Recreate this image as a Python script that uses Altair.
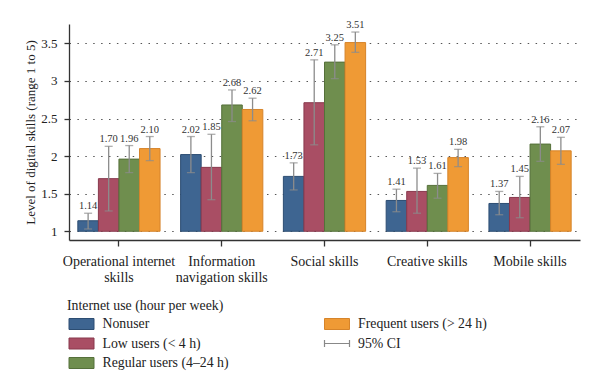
import altair as alt
import pandas as pd

categories = [
    "Operational internet skills",
    "Information navigation skills",
    "Social skills",
    "Creative skills",
    "Mobile skills",
]
series = [
    "Nonuser",
    "Low users (< 4 h)",
    "Regular users (4–24 h)",
    "Frequent users (> 24 h)",
]

nonuser = [1.14, 2.02, 1.73, 1.41, 1.37]
nonuser_lo = [1.03, 1.78, 1.55, 1.26, 1.22]
nonuser_hi = [1.24, 2.26, 1.91, 1.56, 1.53]

low = [1.70, 1.85, 2.71, 1.53, 1.45]
low_lo = [1.27, 1.42, 2.15, 1.24, 1.18]
low_hi = [2.13, 2.29, 3.28, 1.84, 1.73]

regular = [1.96, 2.68, 3.25, 1.61, 2.16]
regular_lo = [1.78, 2.46, 3.03, 1.44, 1.93]
regular_hi = [2.14, 2.88, 3.48, 1.77, 2.39]

frequent = [2.10, 2.62, 3.51, 1.98, 2.07]
frequent_lo = [1.94, 2.47, 3.38, 1.86, 1.89]
frequent_hi = [2.26, 2.77, 3.65, 2.09, 2.25]

y_ticks = [1, 1.5, 2, 2.5, 3, 3.5]
legend_title = "Internet use (hour per week)"
ci_label = "95% CI"

colors = ["#3e6591", "#a94e64", "#6f8e4e", "#ef9a35"]
strokes = ["#2c4d72", "#88394d", "#55703a", "#d6842a"]

FONT = "Liberation Serif"
TXT = "#222222"

rows = []
for s, vals, los, his in zip(
    series,
    [nonuser, low, regular, frequent],
    [nonuser_lo, low_lo, regular_lo, frequent_lo],
    [nonuser_hi, low_hi, regular_hi, frequent_hi],
):
    for c, v, l, h in zip(categories, vals, los, his):
        rows.append(dict(category=c, series=s, value=v, lo=l, hi=h))
df = pd.DataFrame(rows)

label_expr = (
    "datum.label == 'Operational internet skills' ? ['Operational internet', 'skills'] : "
    "datum.label == 'Information navigation skills' ? ['Information', 'navigation skills'] : datum.label"
)

x = alt.X(
    "category:N",
    sort=categories,
    scale=alt.Scale(paddingInner=0.2, paddingOuter=0.086),
    axis=alt.Axis(
        title=None, labelAngle=0, labelExpr=label_expr, labelFont=FONT,
        labelFontSize=14, labelColor=TXT, labelLineHeight=16.5, labelPadding=8,
        tickSize=6, tickColor="#333", tickWidth=1.3, domainColor="#333",
        domainWidth=1.3, grid=False,
    ),
)
xo = alt.XOffset("series:N", sort=series, scale=alt.Scale(paddingInner=0, paddingOuter=0))
yscale = alt.Scale(domain=[0.884, 3.757], nice=False, zero=False)
yaxis = alt.Axis(
    values=y_ticks, format=".1~f", title="Level of digital skills (range 1 to 5)",
    titleFont=FONT, titleFontSize=13, titleFontWeight="normal", titleColor=TXT,
    titlePadding=3.5, labelFont=FONT, labelFontSize=13, labelColor=TXT, labelPadding=7,
    tickSize=5, tickColor="#333", tickWidth=1.3, domainColor="#333", domainWidth=1.3,
    grid=True, gridColor="#555", gridDash=[1.5, 6.4], gridWidth=1,
)


def ych(field):
    return alt.Y(field, scale=yscale, axis=yaxis)


fill = alt.Fill("series:N", scale=alt.Scale(domain=series, range=colors), legend=None)
stroke = alt.Stroke("series:N", scale=alt.Scale(domain=series, range=strokes), legend=None)

base = alt.Chart(df)
bars = base.mark_bar(strokeWidth=1).encode(
    x=x, xOffset=xo, y=ych("value:Q"), y2=alt.datum(1), fill=fill, stroke=stroke
)
rules = base.mark_rule(color="#8c8c8c", strokeWidth=1.3).encode(
    x=x, xOffset=xo, y=ych("lo:Q"), y2="hi:Q"
)
cap_hi = base.mark_tick(orient="horizontal", size=8, thickness=1.3, color="#8c8c8c").encode(
    x=x, xOffset=xo, y=ych("hi:Q")
)
cap_lo = base.mark_tick(orient="horizontal", size=8, thickness=1.3, color="#8c8c8c").encode(
    x=x, xOffset=xo, y=ych("lo:Q")
)
labels = base.mark_text(font=FONT, fontSize=10.5, baseline="middle", dy=-7, color="#333").encode(
    x=x, xOffset=xo, y=ych("hi:Q"), text=alt.Text("value:Q", format=".2f")
)
main = alt.layer(bars, rules, cap_hi, cap_lo, labels).properties(width=511, height=216)

# legend
leg_labels = series + [ci_label]
ldf = pd.DataFrame({
    "label": leg_labels,
    "col": [i // 3 for i in range(len(leg_labels))],
    "row": [i % 3 for i in range(len(leg_labels))],
})
lx = alt.X("col:Q", scale=alt.Scale(domain=[0, 2], nice=False, zero=False), axis=None)
ly = alt.Y("row:Q", scale=alt.Scale(domain=[0, 2], nice=False, zero=False, reverse=True), axis=None)

swatch_path = "M-1,-0.44H1V0.44H-1Z"
ci_path = "M-1,-0.28L-1,0.28M-1,0L1,0M1,-0.28L1,0.28"

sw = alt.Chart(ldf).transform_filter(
    alt.FieldOneOfPredicate(field="label", oneOf=series)
).mark_point(shape=swatch_path, size=625, filled=True, strokeWidth=1, opacity=1).encode(
    x=lx, y=ly, xOffset=alt.value(12.5),
    fill=alt.Fill("label:N", scale=alt.Scale(domain=series, range=colors), legend=None),
    stroke=alt.Stroke("label:N", scale=alt.Scale(domain=series, range=strokes), legend=None),
)
ci = alt.Chart(ldf).transform_filter(
    alt.FieldEqualPredicate(field="label", equal=ci_label)
).mark_point(shape=ci_path, size=625, filled=False, stroke="#888", strokeWidth=1.2, opacity=1).encode(
    x=lx, y=ly, xOffset=alt.value(12.5)
)
txt = alt.Chart(ldf).mark_text(
    align="left", baseline="middle", dx=33.5, font=FONT, fontSize=13.8, color=TXT
).encode(x=lx, y=ly, text="label:N")

legend = alt.layer(sw, ci, txt).properties(
    width=511, height=39,
    title=alt.TitleParams(
        legend_title, anchor="start", font=FONT, fontSize=13.8,
        fontWeight="normal", color=TXT, offset=4,
    ),
)

chart = alt.vconcat(main, legend, spacing=13).properties(
    padding={"left": 16, "top": 12, "right": 5, "bottom": 5}
).configure_view(stroke=None)

chart.save("out.html", embed_options={"renderer": "svg", "actions": False})
